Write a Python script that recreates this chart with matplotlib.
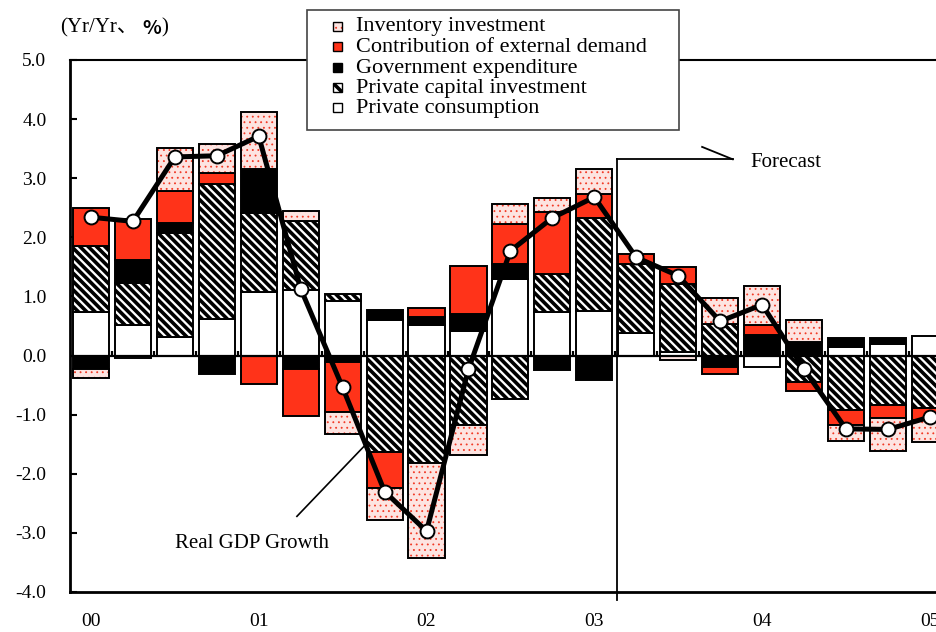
import numpy as np
import matplotlib
matplotlib.use("Agg")
import matplotlib.pyplot as plt
from matplotlib.patches import Rectangle

# ---------------- data ----------------
quarters = ["00Q1", "00Q2", "00Q3", "00Q4", "01Q1", "01Q2", "01Q3", "01Q4",
            "02Q1", "02Q2", "02Q3", "02Q4", "03Q1", "03Q2", "03Q3", "03Q4",
            "04Q1", "04Q2", "04Q3", "04Q4", "05Q1"]
year_labels = ["00", "01", "02", "03", "04", "05"]

private_consumption = [0.73, 0.51, 0.32, 0.62, 1.07, 1.11, 0.92, 0.60, 0.51, 0.41, 1.30,
                       0.73, 0.76, 0.39, 0.06, 0.00, -0.20, 0.00, 0.14, 0.20, 0.33]
private_capital = [1.12, 0.71, 1.76, 2.28, 1.35, 1.17, 0.12, -1.64, -1.82, -1.17, -0.73,
                   0.65, 1.57, 1.16, 1.15, 0.54, 0.00, -0.45, -0.92, -0.83, -0.89]
government = [-0.23, 0.40, 0.16, -0.31, 0.73, -0.23, -0.11, 0.17, 0.15, 0.30, 0.25,
              -0.25, -0.42, 0.00, 0.00, -0.20, 0.35, 0.23, 0.15, 0.09, 0.00]
external = [0.65, 0.69, 0.55, 0.19, -0.48, -0.80, -0.85, -0.60, 0.15, 0.80, 0.67,
            1.05, 0.41, 0.16, 0.28, -0.11, 0.17, -0.15, -0.26, -0.22, -0.20]
inventory = [-0.15, -0.04, 0.72, 0.49, 0.97, 0.17, -0.37, -0.55, -1.61, -0.51, 0.35,
             0.23, 0.42, 0.00, -0.07, 0.43, 0.65, 0.37, -0.26, -0.56, -0.38]
real_gdp = [2.34, 2.27, 3.36, 3.38, 3.71, 1.13, -0.54, -2.30, -2.97, -0.23, 1.77,
            2.33, 2.68, 1.66, 1.35, 0.58, 0.86, -0.23, -1.24, -1.25, -1.04]

legend_labels = ["Inventory investment", "Contribution of external demand",
                 "Government expenditure", "Private capital investment",
                 "Private consumption"]

# ---------------- style ----------------
W, H = 937, 632
RED = "#FF3319"
PINK = "#FDE4E1"
DOTRED = "#F23A26"
SERIF = ["Liberation Serif", "DejaVu Serif"]
plt.rcParams["font.family"] = SERIF
plt.rcParams["hatch.linewidth"] = 2.6


def px(x, y):
    return (x / W, 1 - y / H)


fig = plt.figure(figsize=(W / 100, H / 100), dpi=100)
ax = fig.add_axes([70 / W, (H - 592) / H, (W - 70) / W, (592 - 60) / H])

x = np.arange(len(quarters))
bw = 0.86

series = [
    (private_consumption, dict(color="white"), None),
    (private_capital, dict(color="white", hatch="\\\\\\\\"), None),
    (government, dict(color="black"), None),
    (external, dict(color=RED), None),
    (inventory, dict(color=PINK), "dots"),
]

pos_base = np.zeros(len(x))
neg_base = np.zeros(len(x))
for vals, kw, special in series:
    v = np.array(vals, dtype=float)
    bottom = np.where(v >= 0, pos_base, neg_base)
    m = v != 0
    if special == "dots":
        bars = ax.bar(x[m], v[m], bw, bottom=bottom[m], color=PINK,
                      edgecolor=DOTRED, linewidth=0, hatch="...", zorder=2)
        for b in bars:
            try:
                b.set_hatch_linewidth(0.6)
            except AttributeError:
                pass
        ax.bar(x[m], v[m], bw, bottom=bottom[m], fill=False,
               edgecolor="black", linewidth=1.4, zorder=2.5)
    else:
        ax.bar(x[m], v[m], bw, bottom=bottom[m], edgecolor="black",
               linewidth=1.4, zorder=2, **kw)
    pos_base = pos_base + np.where(v > 0, v, 0)
    neg_base = neg_base + np.where(v < 0, v, 0)

# zero axis with category ticks
ax.axhline(0, color="black", lw=1.6, zorder=2.6)
ax.vlines(np.arange(-0.5, len(x), 1), 0, 0.085, color="black", lw=1.6, zorder=2.6)

# real GDP line
ax.plot(x, real_gdp, color="black", lw=3.6, marker="o", markersize=10,
        markerfacecolor="white", markeredgecolor="black", markeredgewidth=1.4,
        zorder=5)

ax.set_xlim(-0.5, 20.17)
ax.set_ylim(-4.0, 5.0)
ax.set_yticks(np.arange(-4, 5.01, 1))
ax.set_yticklabels([f"{t:.1f}" for t in np.arange(-4, 5.01, 1)])
ax.set_xticks(x[::4])
ax.set_xticklabels(year_labels)
ax.tick_params(axis="y", direction="in", length=5, width=1.5, pad=17, labelsize=14)
ax.tick_params(axis="x", length=0, pad=15, labelsize=14)
ax.spines["right"].set_visible(False)
ax.spines["left"].set_linewidth(2.0)
ax.spines["bottom"].set_linewidth(2.0)
ax.spines["top"].set_linewidth(1.5)

# forecast marker
fx = 12.55
ax.plot([fx, fx], [-4.14, 3.32], color="black", lw=1.3, clip_on=False, zorder=3)
ax.plot([fx, 15.30], [3.32, 3.32], color="black", lw=1.3, clip_on=False, zorder=3)
ax.plot([15.30, 14.57], [3.32, 3.53], color="black", lw=1.3, clip_on=False, zorder=3)
ax.text(15.71, 3.27, "Forecast", fontsize=15, va="center", ha="left")

# real GDP annotation
ax.plot([4.91, 6.53], [-2.72, -1.52], color="black", lw=1.2, zorder=3)
ax.text(3.85, -3.18, "Real GDP Growth", fontsize=15, va="center", ha="center")

# unit label
fig.text(*px(60, 28), "(Yr/Yr、", fontsize=15, va="center", ha="left",
         family=["Liberation Serif", "Noto Sans CJK JP"])
fig.text(*px(142, 28), "%", fontsize=14, va="center", ha="left",
         family=["Noto Sans CJK JP"], fontweight="bold")
fig.text(*px(161, 28), ")", fontsize=15, va="center", ha="left",
         family=["Liberation Serif"])

# manual legend
fig.add_artist(Rectangle(px(307, 130), 372 / W, 120 / H, transform=fig.transFigure,
                         facecolor="white", edgecolor="#444444", lw=1.2, zorder=10))
rows_y = [27, 47, 68, 88, 108]
handle_styles = [
    dict(facecolor=PINK, edgecolor=DOTRED, hatch="...", lw=0),
    dict(facecolor=RED, edgecolor="black", lw=1.0),
    dict(facecolor="black", edgecolor="black", lw=1.0),
    dict(facecolor="white", edgecolor="black", hatch="\\\\", lw=1.0),
    dict(facecolor="white", edgecolor="black", lw=1.0),
]
for yy, lab, st in zip(rows_y, legend_labels, handle_styles):
    r = Rectangle(px(333, yy + 4), 9 / W, 9 / H, transform=fig.transFigure,
                  zorder=11, **st)
    fig.add_artist(r)
    if st.get("hatch") == "...":
        try:
            r.set_hatch_linewidth(0.6)
        except AttributeError:
            pass
        fig.add_artist(Rectangle(px(333, yy + 4), 9 / W, 9 / H,
                                 transform=fig.transFigure, fill=False,
                                 edgecolor="black", lw=1.0, zorder=12))
    fig.text(*px(356, yy), lab, fontsize=16, va="center", ha="left", zorder=12)

fig.savefig("out.png", dpi=100)
